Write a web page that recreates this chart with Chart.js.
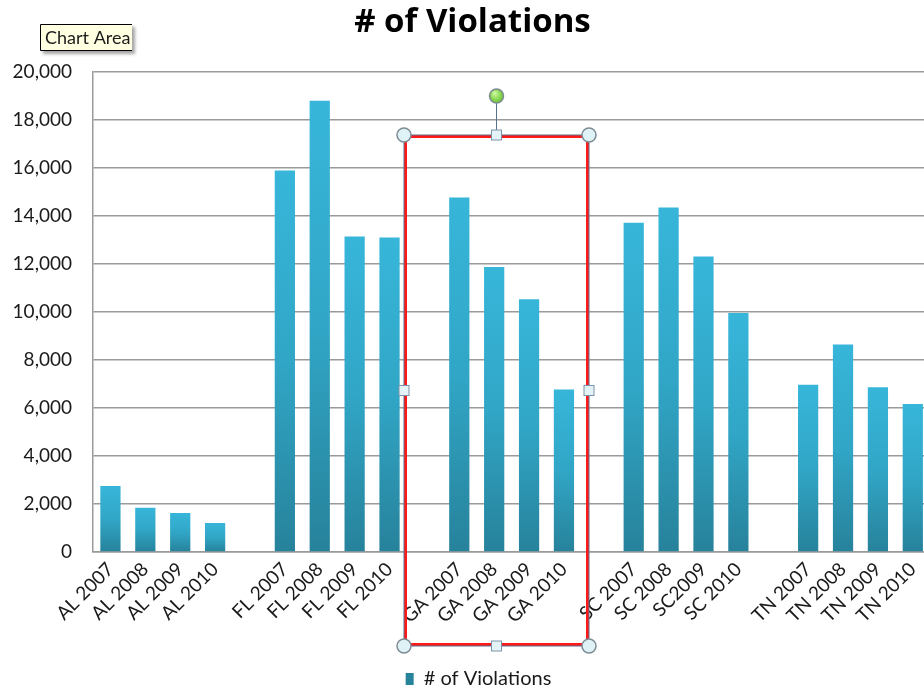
<!DOCTYPE html>
<html>
<head>
<meta charset="utf-8">
<script src="https://cdn.jsdelivr.net/npm/chart.js@4/dist/chart.umd.min.js"></script>
<style>
  html, body { margin: 0; padding: 0; background: #fff; overflow: hidden; }
  #wrap { position: relative; width: 935px; height: 699px; }
</style>
</head>
<body>
<div id="wrap"><canvas id="barChart" width="935" height="699"></canvas></div>
<script>
// data
const categories = [
    'AL 2007', 'AL 2008', 'AL 2009', 'AL 2010', '',
    'FL 2007', 'FL 2008', 'FL 2009', 'FL 2010', '',
    'GA 2007', 'GA 2008', 'GA 2009', 'GA 2010', '',
    'SC 2007', 'SC 2008', 'SC2009', 'SC 2010', '',
    'TN 2007', 'TN 2008', 'TN 2009', 'TN 2010'
];
const violations = [
    2750, 1840, 1630, 1210, null,
    15900, 18800, 13150, 13100, null,
    14770, 11880, 10530, 6770, null,
    13720, 14350, 12310, 9960, null,
    6970, 8650, 6860, 6170
];
const yTicks = [0, 2000, 4000, 6000, 8000, 10000, 12000, 14000, 16000, 18000, 20000];

document.addEventListener("DOMContentLoaded", function () {
    const ctx = document.getElementById('barChart').getContext("2d");

    function barGradient(c) {
        const chart = c.chart;
        const y = chart.scales.y;
        const v = c.raw;
        if (!y || v == null) return '#33afd2';
        const top = y.getPixelForValue(v);
        const bottom = y.getPixelForValue(0);
        if (!isFinite(top) || !isFinite(bottom) || top === bottom) return '#33afd2';
        const g = chart.ctx.createLinearGradient(0, top, 0, bottom);
        g.addColorStop(0, '#37b6da');
        g.addColorStop(0.5, '#31a6c6');
        g.addColorStop(1, '#27829b');
        return g;
    }

    // legend and title sit a bit right of centre in the original
    const shiftBoxes = {
        id: 'shiftBoxes',
        afterLayout(chart) {
            if (chart.legend) chart.legend.left += 26;
            if (chart.titleBlock) {
                chart.titleBlock.left += 14;
            }
        }
    };

    // the editor selection box and the "Chart Area" tip seen in the screenshot
    const overlay = {
        id: 'overlay',
        afterDraw(chart) {
            const c = chart.ctx;
            c.save();
            const L = 404, R = 589, T = 135, B = 646, M = (L + R) / 2, V = (T + B) / 2;
            c.strokeStyle = '#ff1a1a';
            c.lineWidth = 3;
            c.strokeRect(L + 1.5, T + 1.5, R - L - 3, B - T - 3);
            c.strokeStyle = '#5a6f8c';
            c.lineWidth = 1;
            c.strokeRect(L, T, R - L, B - T);
            c.beginPath();
            c.moveTo(M, T);
            c.lineTo(M, 96);
            c.strokeStyle = '#5a6f8c';
            c.stroke();
            function circle(x, y, fill) {
                c.beginPath();
                c.arc(x, y, 7, 0, Math.PI * 2);
                c.fillStyle = fill;
                c.fill();
                c.strokeStyle = '#7f8c96';
                c.lineWidth = 1.5;
                c.stroke();
            }
            function square(x, y) {
                c.fillStyle = '#e3f3f8';
                c.fillRect(x - 5, y - 5, 10, 10);
                c.strokeStyle = '#7f93a8';
                c.lineWidth = 1;
                c.strokeRect(x - 5, y - 5, 10, 10);
            }
            circle(L, T, '#dff2f6');
            circle(R, T, '#dff2f6');
            circle(L, B, '#dff2f6');
            circle(R, B, '#dff2f6');
            square(M, T); square(M, B); square(L, V); square(R, V);
            const gr = c.createRadialGradient(M - 2, 93, 1, M, 96, 8);
            gr.addColorStop(0, '#c8f59a');
            gr.addColorStop(1, '#5cbf1e');
            circle(M, 96, gr);

            // tooltip
            c.shadowColor = 'rgba(0,0,0,0.35)';
            c.shadowOffsetX = 3;
            c.shadowOffsetY = 3;
            c.shadowBlur = 3;
            c.fillStyle = '#ffffe1';
            c.fillRect(40, 24, 92, 27);
            c.shadowColor = 'transparent';
            c.strokeStyle = '#000';
            c.lineWidth = 1;
            c.beginPath();
            c.moveTo(132, 24.5); c.lineTo(40.5, 24.5); c.lineTo(40.5, 50.5); c.lineTo(132, 50.5);
            c.stroke();
            c.beginPath();
            c.rect(41, 25, 91, 25);
            c.clip();
            c.fillStyle = '#1a1a1a';
            c.font = '18px Lato';
            c.textBaseline = 'middle';
            c.fillText('Chart Area', 45, 38);
            c.restore();
        }
    };

    new Chart(ctx, {
        type: 'bar',
        data: {
            labels: categories,
            datasets: [{
                label: '# of Violations',
                data: violations,
                backgroundColor: barGradient,
                borderWidth: 0,
                barPercentage: 0.58,
                categoryPercentage: 1
            }]
        },
        options: {
            responsive: false,
            animation: false,
            layout: { padding: { left: 0, right: 4, top: 0, bottom: 0 } },
            plugins: {
                title: {
                    display: true,
                    text: '# of Violations',
                    color: '#000',
                    font: { family: 'Open Sans', size: 33, weight: 'bold' },
                    padding: { top: 3, bottom: 29.4 }
                },
                legend: {
                    position: 'bottom',
                    labels: {
                        color: '#1a1a1a',
                        font: { family: 'Lato', size: 20 },
                        boxWidth: 8,
                        boxHeight: 12,
                        padding: 10
                    }
                },
                tooltip: { enabled: false }
            },
            scales: {
                x: {
                    offset: true,
                    grid: { display: false, drawTicks: false },
                    border: { display: true, color: '#9a9a9a', width: 1.5 },
                    ticks: {
                        autoSkip: false,
                        minRotation: 45,
                        maxRotation: 45,
                        padding: 6,
                        color: '#1a1a1a',
                        font: { family: 'Lato', size: 19 }
                    },
                    afterFit(scale) { scale.height = 107; }
                },
                y: {
                    min: 0,
                    max: 20000,
                    afterBuildTicks(scale) { scale.ticks = yTicks.map(v => ({ value: v })); },
                    grid: { color: '#9a9a9a', lineWidth: 1.5, drawTicks: false },
                    border: { display: true, color: '#9a9a9a', width: 1.5 },
                    ticks: {
                        padding: 21,
                        color: '#1a1a1a',
                        font: { family: 'Lato', size: 19 },
                        callback: v => v.toLocaleString('en-US')
                    },
                    afterFit(scale) { scale.width = 93; }
                }
            }
        },
        plugins: [shiftBoxes, overlay]
    });
});
</script>
</body>
</html>
